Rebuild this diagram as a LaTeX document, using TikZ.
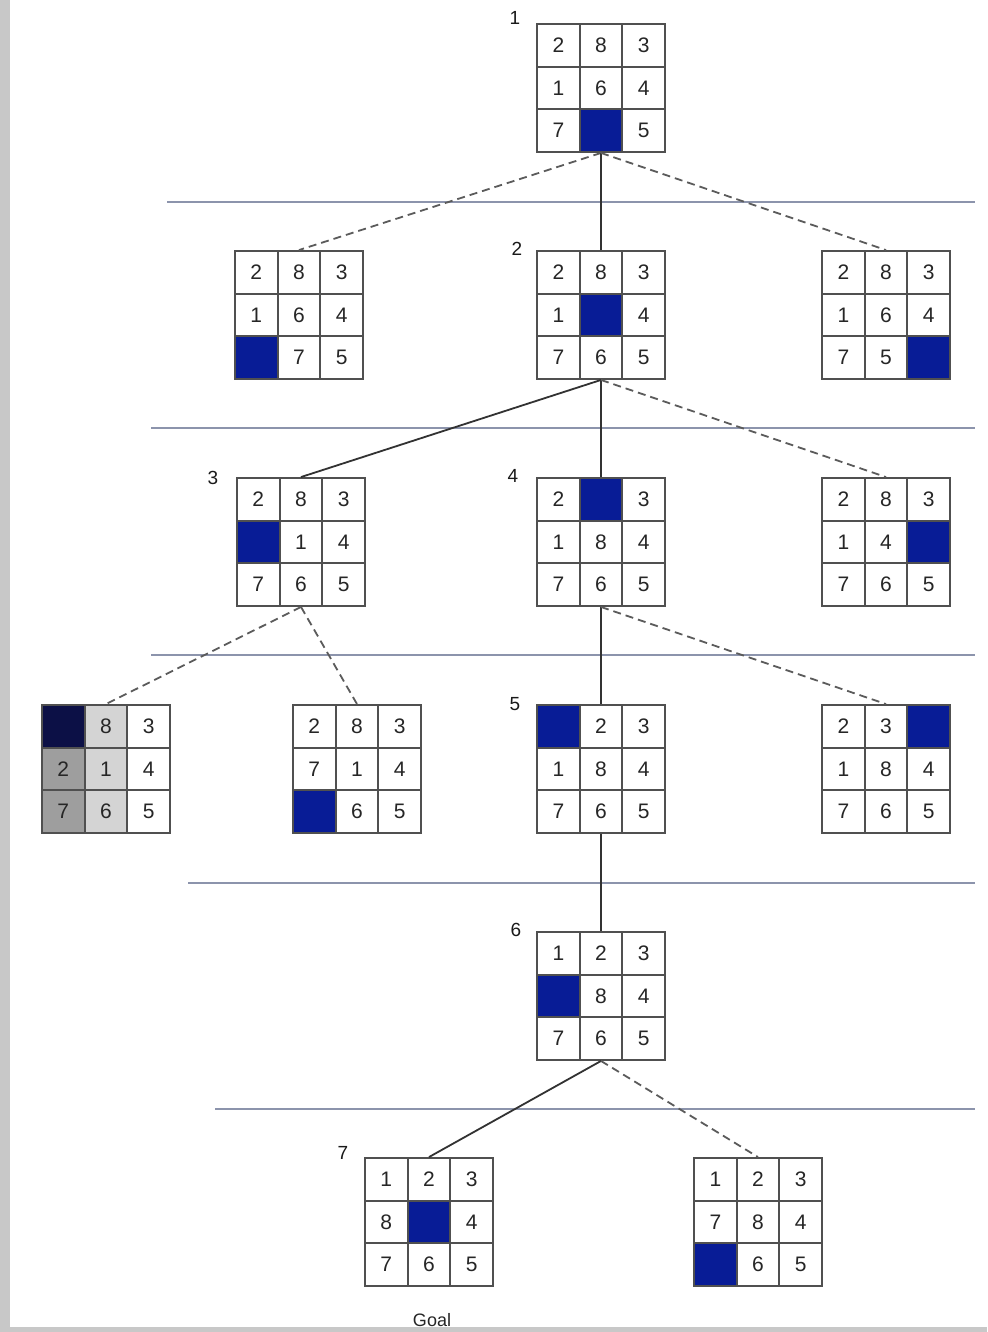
\documentclass[tikz,border=0pt]{standalone}
\usepackage{fontspec}
\setmainfont{Liberation Sans}
\definecolor{tileblue}{RGB}{8,28,150}
\definecolor{darktile}{RGB}{12,16,70}
\definecolor{sepline}{RGB}{140,148,172}
\definecolor{gridc}{RGB}{80,80,80}
\definecolor{edgec}{RGB}{50,50,50}
\definecolor{framegray}{RGB}{200,200,200}
\tikzset{
  x=1pt, y=-1pt,
  digit/.style={font=\fontsize{21}{21}\selectfont, text=black!85, inner sep=0pt},
  numlabel/.style={font=\fontsize{19}{19}\selectfont, text=black!90, inner sep=0pt},
  cellline/.style={draw=gridc, line width=1.7pt},
  frame/.style={draw=gridc, line width=1.9pt, minimum size=128pt, inner sep=0pt},
  sep/.style={draw=sepline, line width=2.4pt},
  solidedge/.style={draw=edgec, line width=1.8pt},
  dashedge/.style={draw=edgec!80, line width=1.8pt, dash pattern=on 8pt off 5pt},
}
\newcommand\pz[5][tileblue]{%
  \foreach \v [count=\k from 0] in {#5} {%
    \pgfmathtruncatemacro\rr{floor(\k/3)}%
    \pgfmathtruncatemacro\cc{mod(\k,3)}%
    \ifnum\v=0
      \fill[#1] ({#3+\cc*42.667},{#4+\rr*42.667}) rectangle ++(42.667,42.667);
    \else
      \node[digit] at ({#3+(\cc+0.5)*42.667},{#4+(\rr+0.5)*42.667}) {\v};
    \fi
    \draw[cellline] ({#3+\cc*42.667},{#4+\rr*42.667}) rectangle ++(42.667,42.667);
  }%
  \node[frame] (#2) at ({#3+64},{#4+64}) {};
}
\begin{document}
\begin{tikzpicture}
\useasboundingbox (0,0) rectangle (987,1332);
\fill[white] (0,0) rectangle (987,1332);
% separators
\draw[sep] (167,202) -- (975,202);
\draw[sep] (151,428) -- (975,428);
\draw[sep] (151,655) -- (975,655);
\draw[sep] (188,883) -- (975,883);
\draw[sep] (215,1109) -- (975,1109);
% grey cells of the dimmed puzzle
\fill[black!38] (42,747.667) rectangle ++(42.667,85.333);
\fill[black!17] (84.667,705) rectangle ++(42.667,128);
% puzzles
\pz{n1}{537}{24}{2,8,3,1,6,4,7,0,5}
\pz{a}{235}{251}{2,8,3,1,6,4,0,7,5}
\pz{n2}{537}{251}{2,8,3,1,0,4,7,6,5}
\pz{b}{822}{251}{2,8,3,1,6,4,7,5,0}
\pz{n3}{237}{478}{2,8,3,0,1,4,7,6,5}
\pz{n4}{537}{478}{2,0,3,1,8,4,7,6,5}
\pz{c}{822}{478}{2,8,3,1,4,0,7,6,5}
\pz[darktile]{d}{42}{705}{0,8,3,2,1,4,7,6,5}
\pz{e}{293}{705}{2,8,3,7,1,4,0,6,5}
\pz{n5}{537}{705}{0,2,3,1,8,4,7,6,5}
\pz{f}{822}{705}{2,3,0,1,8,4,7,6,5}
\pz{n6}{537}{932}{1,2,3,0,8,4,7,6,5}
\pz{n7}{365}{1158}{1,2,3,8,0,4,7,6,5}
\pz{g}{694}{1158}{1,2,3,7,8,4,0,6,5}
% step labels
\node[numlabel] (l1) at (515,18) {1};
\node[numlabel] (l2) at (517,249) {2};
\node[numlabel] (l3) at (213,478) {3};
\node[numlabel] (l4) at (513,476) {4};
\node[numlabel] (l5) at (515,704) {5};
\node[numlabel] (l6) at (516,930) {6};
\node[numlabel] (l7) at (343,1153) {7};
% connectors
\draw[dashedge] (n1.south) -- (a.north);
\draw[solidedge] (n1.south) -- (n2.north);
\draw[dashedge] (n1.south) -- (b.north);
\draw[solidedge] (n2.south) -- (n3.north);
\draw[solidedge] (n2.south) -- (n4.north);
\draw[dashedge] (n2.south) -- (c.north);
\draw[dashedge] (n3.south) -- (d.north);
\draw[dashedge] (n3.south) -- (e.north);
\draw[solidedge] (n4.south) -- (n5.north);
\draw[dashedge] (n4.south) -- (f.north);
\draw[solidedge] (n5.south) -- (n6.north);
\draw[solidedge] (n6.south) -- (n7.north);
\draw[dashedge] (n6.south) -- (g.north);
% goal caption
\node[font=\fontsize{18}{18}\selectfont, text=black!85, inner sep=0pt] (goal) at (432,1320) {Goal};
% screenshot frame
\fill[framegray] (0,0) rectangle (10,1332);
\fill[framegray] (0,1327) rectangle (987,1332);
\end{tikzpicture}
\end{document}
